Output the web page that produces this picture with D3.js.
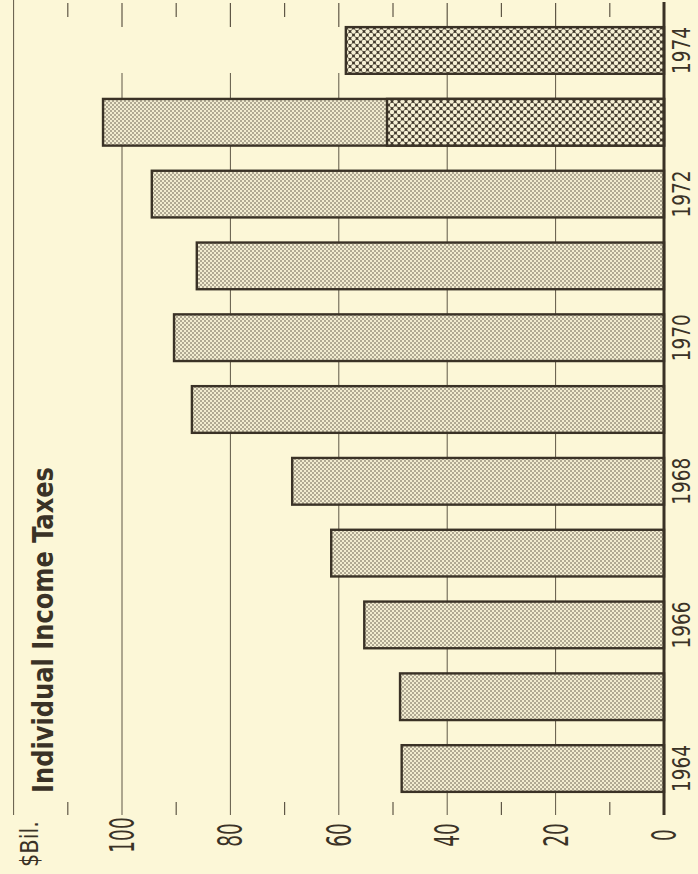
<!DOCTYPE html>
<html>
<head>
<meta charset="utf-8">
<script src="https://cdn.jsdelivr.net/npm/d3@7"></script>
<style>
  html, body { margin: 0; padding: 0; background: #fcf7d7; }
  svg { display: block; }
  text { font-family: "Liberation Sans Narrow", "DejaVu Sans Condensed", "Arial Narrow", sans-serif; fill: #3a3226; }
</style>
</head>
<body>
<svg id="chart" width="698" height="874"></svg>
<script>
// values in $ billions
const years = [1964, 1965, 1966, 1967, 1968, 1969, 1970, 1971, 1972, 1973, 1974];
const taxes = [48.4, 48.7, 55.3, 61.4, 68.6, 87.1, 90.4, 86.2, 94.5, 103.5, null];
const hatched = [null, null, null, null, null, null, null, null, null, 51.1, 58.7];
const valueTicks = [0, 20, 40, 60, 80, 100];
const yearLabels = [1964, 1966, 1968, 1970, 1972, 1974];

const W = 698, H = 874;
const ink = "#3a3226";
const svg = d3.select("#chart");

svg.append("rect").attr("width", W).attr("height", H).attr("fill", "#fcf7d7");

// chart is turned on its side: baseline on the right, years run bottom to top
const x = d3.scaleLinear().domain([0, 120]).range([664, 13.6]);
const y = d3.scaleBand().domain(years.slice().reverse()).range([2, 817]).padding(0.35);

const defs = svg.append("defs");

// fine stipple for the actual figures
const dots = defs.append("pattern")
    .attr("id", "dots")
    .attr("patternUnits", "userSpaceOnUse")
    .attr("width", 4).attr("height", 4);
dots.append("rect").attr("width", 4).attr("height", 4).attr("fill", "#f2ecd0");
dots.selectAll("circle")
    .data([[1, 1], [3, 3]])
    .enter().append("circle")
    .attr("cx", d => d[0]).attr("cy", d => d[1])
    .attr("r", 0.75)
    .attr("fill", "#4d4538");

// coarse crosshatch for the 1973/1974 part
const cross = defs.append("pattern")
    .attr("id", "cross")
    .attr("patternUnits", "userSpaceOnUse")
    .attr("width", 7).attr("height", 7);
cross.append("rect").attr("width", 7).attr("height", 7).attr("fill", "#3f372a");
cross.selectAll("circle")
    .data([[0, 0], [7, 0], [0, 7], [7, 7], [3.5, 3.5]])
    .enter().append("circle")
    .attr("cx", d => d[0]).attr("cy", d => d[1])
    .attr("r", 2.25)
    .attr("fill", "#f6f0d4");

// grid lines and ticks
const gridTop = 73, gridBottom = 815;
const tens = d3.range(10, 120, 10);

svg.selectAll(".grid")
    .data(valueTicks.filter(v => v > 0))
    .enter().append("line")
    .attr("x1", d => x(d)).attr("x2", d => x(d))
    .attr("y1", gridTop).attr("y2", gridBottom)
    .attr("stroke", "#5f5746").attr("stroke-width", 1);

svg.append("line")
    .attr("x1", x(120)).attr("x2", x(120))
    .attr("y1", 0).attr("y2", gridBottom)
    .attr("stroke", "#5f5746").attr("stroke-width", 1);

svg.selectAll(".toptick")
    .data(tens)
    .enter().append("line")
    .attr("x1", d => x(d)).attr("x2", d => x(d))
    .attr("y1", 3).attr("y2", d => d % 20 === 0 ? 27 : 17)
    .attr("stroke", "#5f5746").attr("stroke-width", 1.2);

svg.selectAll(".bottick")
    .data(tens.filter(d => d % 20 !== 0))
    .enter().append("line")
    .attr("x1", d => x(d)).attr("x2", d => x(d))
    .attr("y1", 802).attr("y2", gridBottom)
    .attr("stroke", "#5f5746").attr("stroke-width", 1.2);

// stippled bars
svg.selectAll(".bar")
    .data(years.map((yr, i) => ({ yr, v: taxes[i] })).filter(d => d.v != null))
    .enter().append("rect")
    .attr("x", d => x(d.v))
    .attr("y", d => y(d.yr))
    .attr("width", d => x(0) - x(d.v))
    .attr("height", y.bandwidth())
    .attr("fill", "url(#dots)")
    .attr("stroke", ink)
    .attr("stroke-width", 2.4);

// crosshatched bars
svg.selectAll(".hbar")
    .data(years.map((yr, i) => ({ yr, v: hatched[i] })).filter(d => d.v != null))
    .enter().append("rect")
    .attr("x", d => x(d.v))
    .attr("y", d => y(d.yr))
    .attr("width", d => x(0) - x(d.v))
    .attr("height", y.bandwidth())
    .attr("fill", "url(#cross)")
    .attr("stroke", ink)
    .attr("stroke-width", 2.4);

// zero baseline
svg.append("line")
    .attr("x1", x(0)).attr("x2", x(0))
    .attr("y1", 2).attr("y2", gridBottom)
    .attr("stroke", ink).attr("stroke-width", 3);

// value labels, turned -90
svg.selectAll(".vlabel")
    .data(valueTicks)
    .enter().append("text")
    .attr("transform", d => `translate(${x(d) + 12},835) rotate(-90)`)
    .attr("text-anchor", "middle")
    .attr("font-size", 33)
    .attr("textLength", d => String(d).length * 11.8)
    .attr("lengthAdjust", "spacingAndGlyphs")
    .text(d => d);

// year labels
svg.selectAll(".ylabel")
    .data(yearLabels)
    .enter().append("text")
    .attr("transform", d => `translate(690,${y(d) + y.bandwidth() / 2}) rotate(-90)`)
    .attr("text-anchor", "middle")
    .attr("font-size", 24)
    .attr("textLength", 47)
    .attr("lengthAdjust", "spacingAndGlyphs")
    .text(d => d);

// title and unit
svg.append("text")
    .attr("transform", "translate(53,793) rotate(-90)")
    .attr("font-size", 29)
    .attr("font-weight", "bold")
    .attr("textLength", 326)
    .attr("lengthAdjust", "spacingAndGlyphs")
    .text("Individual Income Taxes");

svg.append("text")
    .attr("transform", "translate(38,867) rotate(-90)")
    .attr("font-size", 25)
    .attr("textLength", 46)
    .attr("lengthAdjust", "spacingAndGlyphs")
    .text("$Bil.");
</script>
</body>
</html>
